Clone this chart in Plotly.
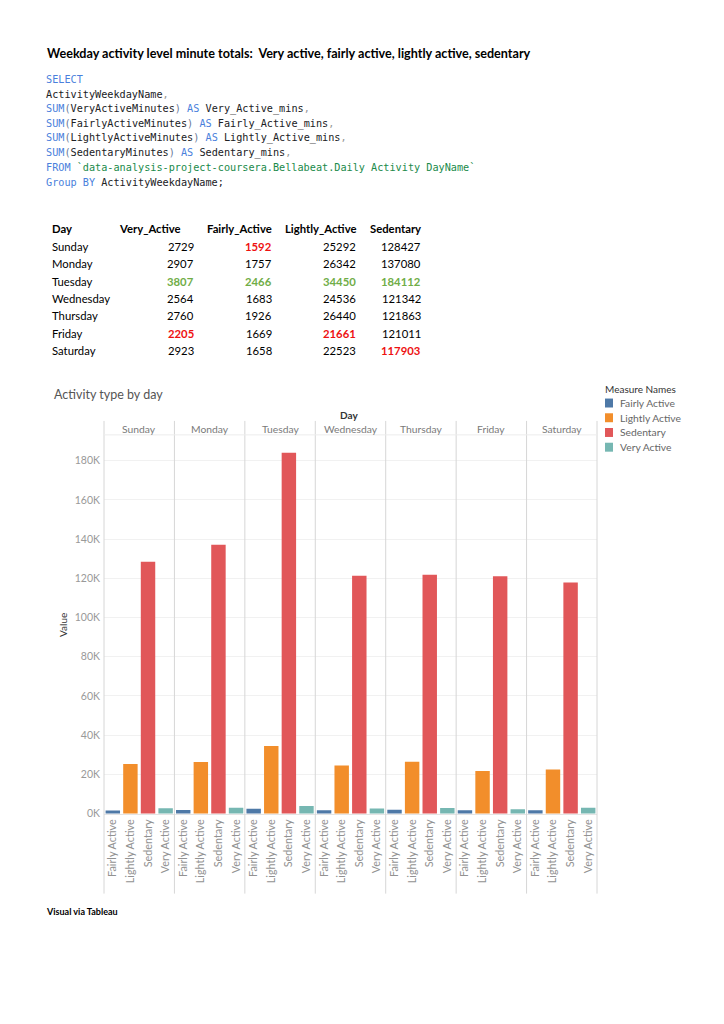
import plotly.graph_objects as go
from plotly.subplots import make_subplots

W, H = 724, 1024

# ---------------- data ----------------
days = ["Sunday", "Monday", "Tuesday", "Wednesday", "Thursday", "Friday", "Saturday"]
measures = ["Fairly Active", "Lightly Active", "Sedentary", "Very Active"]
very_active = [2729, 2907, 3807, 2564, 2760, 2205, 2923]
fairly_active = [1592, 1757, 2466, 1683, 1926, 1669, 1658]
lightly_active = [25292, 26342, 34450, 24536, 26440, 21661, 22523]
sedentary = [128427, 137080, 184112, 121342, 121863, 121011, 117903]
table_headers = ["Day", "Very_Active", "Fairly_Active", "Lightly_Active", "Sedentary"]
y_tick_vals = [0, 20000, 40000, 60000, 80000, 100000, 120000, 140000, 160000, 180000]
y_tick_text = ["0K", "20K", "40K", "60K", "80K", "100K", "120K", "140K", "160K", "180K"]

measure_colors = {"Fairly Active": "#4e79a7", "Lightly Active": "#f28e2b",
                  "Sedentary": "#e15759", "Very Active": "#76b7b2"}
measure_values = {"Fairly Active": fairly_active, "Lightly Active": lightly_active,
                  "Sedentary": sedentary, "Very Active": very_active}


def X(px):
    return px / W


def Y(py):
    return 1 - py / H


ann = []


def text(x, y, s, size=11, color="#111", family="Lato", xanchor="left", angle=0):
    f = dict(size=size, color=color, family=family)
    ann.append(dict(x=X(x), y=Y(y), xref="paper", yref="paper", text=s, showarrow=False,
                    xanchor=xanchor, yanchor="middle", font=f, textangle=angle))


# ---------------- page title ----------------
text(45, 54, "<b>Weekday activity level minute totals:\u00a0 Very active, fairly active, lightly active, sedentary</b>",
     size=12.6, color="#000")

# ---------------- SQL code ----------------
BLUE = "#4a7fdc"
GREEN = "#1a8a4a"
PAREN = "#6a7a99"
GRAY = "#999999"


def kw(s):
    return f"<span style='color:{BLUE}'>{s}</span>"


def pa(s):
    return f"<span style='color:{PAREN}'>{s}</span>"


def cm():
    return f"<span style='color:{GRAY}'>,</span>"


def gr(s):
    return f"<span style='color:{GREEN}'>{s}</span>"


code_lines = [
    kw("SELECT"),
    "ActivityWeekdayName" + cm(),
    kw("SUM") + pa("(") + "VeryActiveMinutes" + pa(")") + " " + kw("AS") + " Very_Active_mins" + cm(),
    kw("SUM") + pa("(") + "FairlyActiveMinutes" + pa(")") + " " + kw("AS") + " Fairly_Active_mins" + cm(),
    kw("SUM") + pa("(") + "LightlyActiveMinutes" + pa(")") + " " + kw("AS") + " Lightly_Active_mins" + cm(),
    kw("SUM") + pa("(") + "SedentaryMinutes" + pa(")") + " " + kw("AS") + " Sedentary_mins" + cm(),
    kw("FROM") + " " + gr("`data-analysis-project-coursera.Bellabeat.Daily Activity DayName`"),
    kw("Group BY") + " ActivityWeekdayName;",
]
for i, line in enumerate(code_lines):
    text(44, 80 + i * 14.75, line, size=10.2, color="#202124", family="DejaVu Sans Mono")

# ---------------- table ----------------
header_pos = [(50, "left"), (183, "right"), (274, "right"), (358, "right"), (423, "right")]
num_right = [196, 274, 358, 423]
row_y0, row_dy = 247.3, 17.55
for (hx, anc), h in zip(header_pos, table_headers):
    text(hx, 229.3, f"<b>{h}</b>", size=11.3, color="#000", xanchor=anc)

cols = [very_active, fairly_active, lightly_active, sedentary]
for r, d in enumerate(days):
    yy = row_y0 + r * row_dy
    text(50, yy, d, size=11.3, color="#000")
    for c, col in enumerate(cols):
        v = col[r]
        s = str(v)
        if v == max(col):
            s = f"<b>{s}</b>"
            colr = "#70ad47"
        elif v == min(col):
            s = f"<b>{s}</b>"
            colr = "#ee1111"
        else:
            colr = "#000"
        text(num_right[c], yy, s, size=11.3, color=colr, xanchor="right")

# ---------------- chart ----------------
left, right = 104, 597
pw = (right - left) / len(days)
plot_top, plot_bot = 437, 818

fig = make_subplots(rows=1, cols=len(days), shared_yaxes=True, horizontal_spacing=0)
for i, d in enumerate(days):
    fig.add_trace(go.Bar(
        x=measures,
        y=[measure_values[m][i] for m in measures],
        marker=dict(color=[measure_colors[m] for m in measures], line=dict(width=0)),
        showlegend=False,
        hovertemplate="%{x}: %{y}<extra>" + d + "</extra>",
    ), row=1, col=i + 1)

layout_axes = {}
for i in range(len(days)):
    xa = "xaxis" if i == 0 else f"xaxis{i + 1}"
    ya = "yaxis" if i == 0 else f"yaxis{i + 1}"
    layout_axes[xa] = dict(domain=[X(left + i * pw), X(left + (i + 1) * pw)],
                           tickangle=-90, tickfont=dict(size=10.8, color="#929292", family="Lato"),
                           showgrid=False, showline=True, linecolor="#e4e4e4", linewidth=1,
                           ticks="", fixedrange=True)
    layout_axes[ya] = dict(domain=[Y(plot_bot), Y(plot_top)], range=[-250, 193200],
                           tickvals=y_tick_vals, ticktext=y_tick_text,
                           showticklabels=(i == 0), gridcolor="#f1f1f1", gridwidth=1,
                           zeroline=False, showline=False, ticks="",
                           tickfont=dict(size=10.5, color="#999", family="Lato"),
                           ticklabelstandoff=3)
fig.update_layout(**layout_axes)

shapes = []
# panel separators
for i in range(len(days) + 1):
    xx = left + i * pw
    shapes.append(dict(type="line", xref="paper", yref="paper", x0=X(xx), x1=X(xx),
                       y0=Y(423), y1=Y(898), line=dict(color="#d6d6d6", width=1)))
shapes.append(dict(type="line", xref="paper", yref="paper", x0=X(left), x1=X(right),
                   y0=Y(437), y1=Y(437), line=dict(color="#ececec", width=1)))

# header labels
text(349, 417, "<b>Day</b>", size=10, color="#333", xanchor="center")
for i, d in enumerate(days):
    text(left + (i + 0.5) * pw, 431, d, size=10.3, color="#7a7a7a", xanchor="center")

# chart title & y title
text(52, 396.5, "Activity type by day", size=12.5, color="#555")
text(63, 628, "Value", size=10, color="#333", xanchor="center", angle=-90)

# legend
text(603, 391, "Measure Names", size=10, color="#333")
for j, m in enumerate(measures):
    yy = 405 + j * 14.8
    shapes.append(dict(type="rect", xref="paper", yref="paper", x0=X(605), x1=X(613),
                       y0=Y(yy + 4.5), y1=Y(yy - 4.5), fillcolor=measure_colors[m],
                       line=dict(width=0)))
    text(618, yy, m, size=10.3, color="#666")

# footer
text(44, 915.5, "<b>Visual via Tableau</b>", size=9, color="#000")

fig.update_layout(width=W, height=H, margin=dict(l=0, r=0, t=0, b=0),
                  paper_bgcolor="white", plot_bgcolor="white", bargap=0.18,
                  annotations=ann, shapes=shapes, showlegend=False)

fig.write_html("out.html", config={"displayModeBar": False},
               post_script="document.body.style.margin='0';document.body.style.padding='0';")
